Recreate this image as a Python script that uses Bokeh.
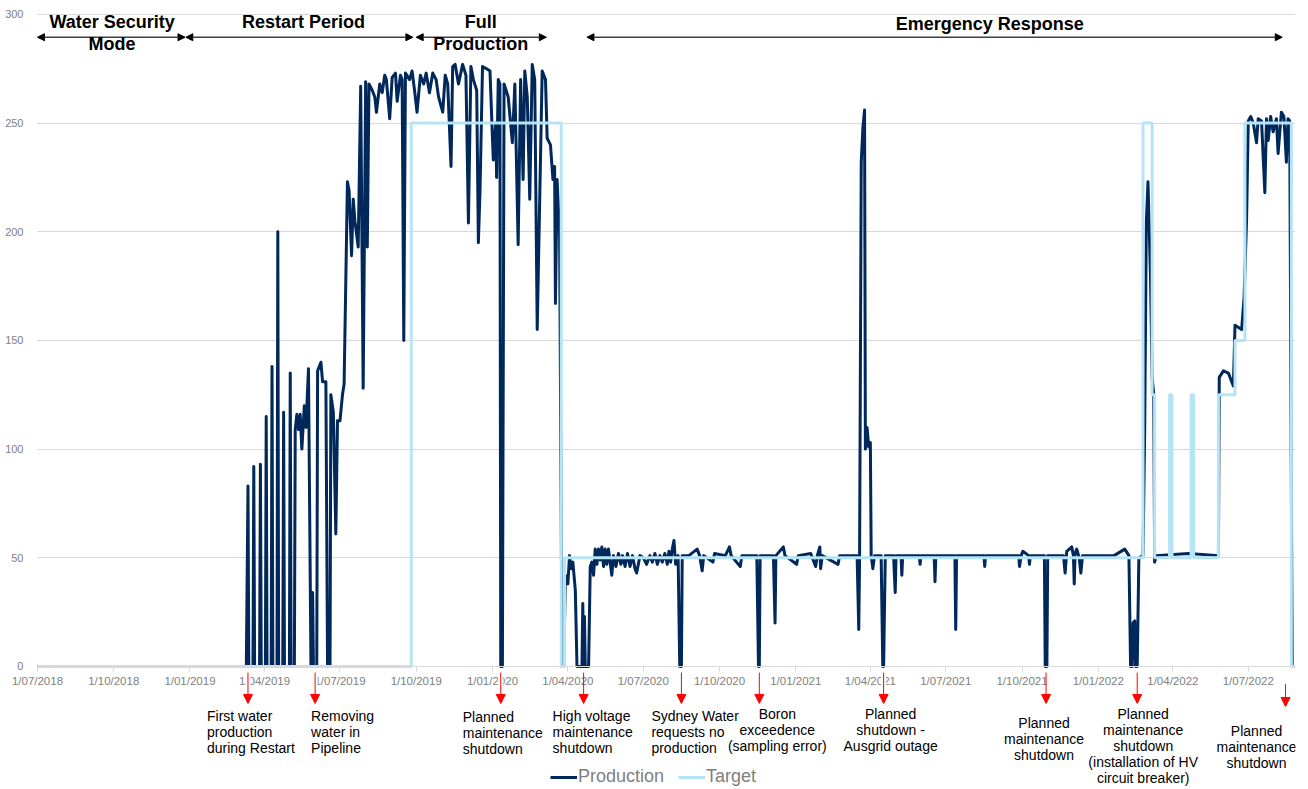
import pandas as pd
from bokeh.plotting import figure
from bokeh.models import (Range1d, FixedTicker, Arrow, NormalHead, Label, Legend,
                          LegendItem, Grid)
from bokeh.embed import file_html
from bokeh.resources import INLINE

# ---------------- data (ML/day) ----------------
prod_dates = [
    "2018-07-01", "2019-03-10",
    "2019-03-12", "2019-03-13", "2019-03-18", "2019-03-19", "2019-03-20",
    "2019-03-26", "2019-03-27", "2019-03-28", "2019-04-02", "2019-04-03", "2019-04-04",
    "2019-04-09", "2019-04-10", "2019-04-11", "2019-04-16", "2019-04-17", "2019-04-18",
    "2019-04-23", "2019-04-24", "2019-04-25", "2019-05-01", "2019-05-02", "2019-05-03",
    "2019-05-07", "2019-05-08", "2019-05-10", "2019-05-12", "2019-05-14", "2019-05-16",
    "2019-05-19", "2019-05-21", "2019-05-24", "2019-05-27", "2019-05-29", "2019-05-30",
    "2019-06-03", "2019-06-04", "2019-06-08", "2019-06-10", "2019-06-14", "2019-06-16",
    "2019-06-19", "2019-06-20", "2019-06-23", "2019-06-26", "2019-06-28", "2019-07-01",
    "2019-07-04", "2019-07-06", "2019-07-10", "2019-07-12", "2019-07-15", "2019-07-17",
    "2019-07-19", "2019-07-23", "2019-07-26", "2019-07-29", "2019-08-01", "2019-08-03",
    "2019-08-05", "2019-08-09", "2019-08-12", "2019-08-14", "2019-08-18", "2019-08-21",
    "2019-08-24", "2019-08-26", "2019-08-30", "2019-09-02", "2019-09-06", "2019-09-08",
    "2019-09-12", "2019-09-14", "2019-09-16", "2019-09-18", "2019-09-23", "2019-09-26",
    "2019-09-29", "2019-10-02", "2019-10-06", "2019-10-10", "2019-10-13", "2019-10-17",
    "2019-10-21", "2019-10-25", "2019-10-28", "2019-11-02", "2019-11-05", "2019-11-08",
    "2019-11-12", "2019-11-14", "2019-11-17", "2019-11-21", "2019-11-26", "2019-11-30",
    "2019-12-03", "2019-12-06", "2019-12-09", "2019-12-13", "2019-12-15", "2019-12-17",
    "2019-12-20", "2019-12-25", "2019-12-29", "2020-01-02", "2020-01-05", "2020-01-06",
    "2020-01-08", "2020-01-10", "2020-01-11", "2020-01-13", "2020-01-15", "2020-01-20",
    "2020-01-25", "2020-01-28", "2020-02-01", "2020-02-04", "2020-02-07", "2020-02-09",
    "2020-02-12", "2020-02-15", "2020-02-18", "2020-02-21", "2020-02-24", "2020-03-01",
    "2020-03-05", "2020-03-07", "2020-03-11", "2020-03-14", "2020-03-16", "2020-03-17",
    "2020-03-19", "2020-03-22", "2020-03-25", "2020-03-27", "2020-03-29", "2020-04-01",
    "2020-04-03", "2020-04-05", "2020-04-07", "2020-04-10", "2020-04-12", "2020-04-18",
    "2020-04-19", "2020-04-20", "2020-04-21", "2020-04-22", "2020-04-26", "2020-04-28",
    "2020-04-30", "2020-05-02", "2020-05-04", "2020-05-06", "2020-05-08", "2020-05-10",
    "2020-05-12", "2020-05-14", "2020-05-16", "2020-05-18", "2020-05-20", "2020-05-22",
    "2020-05-24", "2020-05-26", "2020-05-29", "2020-06-01", "2020-06-04", "2020-06-06",
    "2020-06-09", "2020-06-12", "2020-06-15", "2020-06-18", "2020-06-21", "2020-06-23",
    "2020-06-27", "2020-07-01", "2020-07-05", "2020-07-09", "2020-07-12", "2020-07-15",
    "2020-07-18", "2020-07-21", "2020-07-24", "2020-07-27", "2020-07-30", "2020-08-01",
    "2020-08-03", "2020-08-05", "2020-08-07", "2020-08-09", "2020-08-12", "2020-08-14",
    "2020-08-16", "2020-08-17", "2020-08-25", "2020-09-04", "2020-09-07", "2020-09-10",
    "2020-09-12", "2020-09-23", "2020-09-25", "2020-10-08", "2020-10-13", "2020-10-15",
    "2020-10-26", "2020-10-28", "2020-11-15", "2020-11-17", "2020-11-18", "2020-11-19",
    "2020-12-05", "2020-12-07", "2020-12-08", "2020-12-17", "2020-12-19", "2021-01-02",
    "2021-01-04", "2021-01-19", "2021-01-25", "2021-01-27", "2021-01-30", "2021-01-31",
    "2021-02-02", "2021-02-21", "2021-02-23", "2021-03-16", "2021-03-18", "2021-03-19",
    "2021-03-21", "2021-03-23", "2021-03-25", "2021-03-26", "2021-03-27", "2021-03-28",
    "2021-03-30", "2021-04-01", "2021-04-02", "2021-04-04", "2021-04-06", "2021-04-14",
    "2021-04-16", "2021-04-17", "2021-04-19", "2021-04-29", "2021-05-01", "2021-05-02",
    "2021-05-08", "2021-05-09", "2021-05-10", "2021-05-30", "2021-05-31", "2021-06-01",
    "2021-06-17", "2021-06-18", "2021-06-19", "2021-07-12", "2021-07-13", "2021-07-14",
    "2021-08-16", "2021-08-17", "2021-08-18", "2021-09-27", "2021-09-28", "2021-09-30",
    "2021-10-02", "2021-10-09", "2021-10-10", "2021-10-11", "2021-10-28", "2021-10-29",
    "2021-10-31", "2021-11-01", "2021-11-20", "2021-11-22", "2021-11-24", "2021-11-27",
    "2021-11-30", "2021-12-02", "2021-12-03", "2021-12-04", "2021-12-06", "2021-12-09",
    "2021-12-11", "2021-12-13", "2022-01-20", "2022-02-02", "2022-02-07", "2022-02-09",
    "2022-02-11", "2022-02-12", "2022-02-14", "2022-02-15", "2022-02-17", "2022-02-19",
    "2022-02-24", "2022-02-26", "2022-02-28", "2022-03-02", "2022-03-05", "2022-03-07",
    "2022-03-09", "2022-03-10", "2022-03-12", "2022-04-20", "2022-05-26", "2022-05-27",
    "2022-06-01", "2022-06-07", "2022-06-11", "2022-06-13", "2022-06-15", "2022-06-23",
    "2022-06-26", "2022-06-29", "2022-07-01", "2022-07-04", "2022-07-07", "2022-07-11",
    "2022-07-13", "2022-07-17", "2022-07-21", "2022-07-23", "2022-07-25", "2022-07-28",
    "2022-07-31", "2022-08-04", "2022-08-06", "2022-08-10", "2022-08-13", "2022-08-16",
    "2022-08-18", "2022-08-20", "2022-08-23",
]
prod_values = [
    0, 0,
    83, 0, 0, 92, 0,
    0, 93, 0, 0, 115, 0,
    0, 138, 0, 0, 200, 0,
    0, 117, 0, 0, 135, 0,
    0, 109, 116, 109, 116, 100,
    120, 110, 137, 0, 34, 0,
    0, 136, 140, 131, 131, 0,
    0, 125, 117, 61, 113, 113,
    125, 130, 223, 219, 189, 215,
    205, 193, 267, 128, 269, 193,
    268, 265, 262, 255, 268, 264,
    272, 270, 252, 271, 273, 260,
    272, 270, 150, 273, 270, 274,
    265, 255, 272, 268, 273, 264,
    273, 270, 262, 255, 272, 268,
    230, 276, 277, 268, 277, 272,
    204, 276, 270, 265, 195, 219,
    276, 275, 274, 233, 250, 225,
    270, 268, 0, 0, 268, 262,
    241, 268, 194, 270, 224, 274,
    262, 215, 277, 270, 155, 274,
    270, 243, 240, 224, 230, 167,
    224, 199, 0, 0, 42, 38,
    51, 45, 48, 35, 0, 0,
    29, 0, 23, 0, 0, 46,
    48, 42, 54, 47, 54, 49,
    55, 46, 54, 47, 54, 48,
    42, 51, 46, 52, 47, 51,
    46, 52, 46, 51, 45, 43,
    51, 50, 47, 51, 48, 52,
    47, 51, 48, 52, 47, 53,
    48, 54, 58, 47, 51, 0,
    0, 51, 51, 54, 51, 44,
    51, 48, 52, 51, 55, 51,
    46, 51, 51, 0, 0, 51,
    51, 20, 51, 55, 51, 47,
    51, 52, 46, 51, 55, 45,
    51, 47, 51, 51, 17, 50,
    232, 248, 256, 100, 104, 110,
    101, 103, 51, 45, 51, 51,
    0, 0, 51, 51, 34, 51,
    51, 42, 51, 51, 47, 51,
    51, 39, 51, 51, 17, 51,
    51, 46, 51, 51, 46, 51,
    53, 51, 47, 51, 51, 0,
    0, 51, 51, 43, 53, 54,
    55, 51, 38, 52, 54, 50,
    43, 51, 51, 54, 51, 0,
    0, 20, 21, 0, 0, 50,
    51, 108, 204, 223, 180, 133,
    125, 48, 51, 52, 51, 133,
    136, 135, 131, 129, 157, 155,
    170, 206, 251, 253, 250, 241,
    252, 251, 218, 252, 242, 253,
    246, 252, 236, 255, 253, 232,
    252, 251, 0,
]

target_dates = ["2018-07-01", "2019-09-25", "2020-03-24", "2020-03-28", "2022-02-24",
                "2022-03-07", "2022-03-10", "2022-03-28", "2022-03-31", "2022-04-23",
                "2022-04-26", "2022-05-26", "2022-06-15", "2022-06-27", "2022-08-22",
                "2022-08-27"]
target_values = [0, 250, 0, 50, 250, 125, 50, 125, 50, 125, 50, 125, 150, 250, 0, 0]

tick_dates = ["2018-07-01", "2018-10-01", "2019-01-01", "2019-04-01", "2019-07-01",
              "2019-10-01", "2020-01-01", "2020-04-01", "2020-07-01", "2020-10-01",
              "2021-01-01", "2021-04-01", "2021-07-01", "2021-10-01", "2022-01-01",
              "2022-04-01", "2022-07-01"]
tick_labels = ["1/07/2018", "1/10/2018", "1/01/2019", "1/04/2019", "1/07/2019",
               "1/10/2019", "1/01/2020", "1/04/2020", "1/07/2020", "1/10/2020",
               "1/01/2021", "1/04/2021", "1/07/2021", "1/10/2021", "1/01/2022",
               "1/04/2022", "1/07/2022"]
y_ticks = [0, 50, 100, 150, 200, 250, 300]

phase_names = ["Water Security\nMode", "Restart Period", "Full\nProduction", "Emergency Response"]
phase_starts = ["2018-07-01", "2018-12-27", "2019-10-01", "2020-04-24"]
phase_ends = ["2018-12-26", "2019-09-27", "2020-03-06", "2022-08-11"]
phase_label_dates = ["2018-09-29", "2019-05-18", "2019-12-18", "2021-08-23"]

event_dates = ["2019-03-12", "2019-06-01", "2020-01-11", "2020-04-20", "2020-08-16",
               "2020-11-18", "2021-04-17", "2021-10-30", "2022-02-17", "2022-08-15"]
event_texts = ["First water\nproduction\nduring Restart",
               "Removing\nwater in\nPipeline",
               "Planned\nmaintenance\nshutdown",
               "High voltage\nmaintenance\nshutdown",
               "Sydney Water\nrequests no\nproduction",
               "Boron\nexceedence\n(sampling error)",
               "Planned\nshutdown -\nAusgrid outage",
               "Planned\nmaintenance\nshutdown",
               "Planned\nmaintenance\nshutdown\n(installation of HV\ncircuit breaker)",
               "Planned\nmaintenance\nshutdown"]

# ---------------- layout / style ----------------
FONT = "Liberation Sans"
PROD_COLOR = "#00285a"
TARGET_COLOR = "#b5e4f7"
GRAY = "#808080"

def ms(d):
    return float((pd.Timestamp(d) - pd.Timestamp("1970-01-01")) // pd.Timedelta("1ms"))

X0 = pd.Timestamp("2018-07-01")
X1 = pd.Timestamp("2022-08-27")
LEFT_PAD_DAYS = 39.8          # room left of the first date for the y labels

# note layout: (x offset px, align, top y in data units, white gap behind tick label)
event_layout = [(-41, "left", -19.3, True), (-4, "left", -19.3, True),
                (-38, "left", -19.6, True), (-31, "left", -19.3, False),
                (-30, "left", -19.3, False), (18, "center", -18.0, False),
                (7, "center", -18.4, True), (-2, "center", -22.5, False),
                (6, "center", -18.4, False), (-29, "center", -25.8, False)]
arrow_top = [-2.8] * 9 + [-8.0]
arrow_tip = [-17.0] * 9 + [-18.4]

p = figure(width=1308, height=789, x_axis_type="datetime",
           x_range=Range1d(X0 - pd.Timedelta(days=LEFT_PAD_DAYS), X1),
           y_range=Range1d(-56.6, 306.4),
           output_backend="svg", toolbar_location=None,
           min_border_left=4, min_border_right=13, min_border_top=0, min_border_bottom=0)
p.outline_line_color = None
p.background_fill_color = "white"

# axes (pinned inside the frame so that the notes below can be drawn)
p.xaxis.fixed_location = 0
p.xaxis.bounds = (ms(X0), ms(X1))
p.xaxis.ticker = FixedTicker(ticks=[ms(d) for d in tick_dates])
p.xaxis.major_label_overrides = {ms(d): lab for d, lab in zip(tick_dates, tick_labels)}
p.xaxis.axis_line_color = "#d9d9d9"
p.xaxis.major_tick_line_color = "#d9d9d9"
p.xaxis.major_tick_out = 5
p.xaxis.major_tick_in = 0
p.xaxis.minor_tick_line_color = None
p.xaxis.major_label_text_font = FONT
p.xaxis.major_label_text_font_size = "11.5px"
p.xaxis.major_label_text_color = GRAY
p.xaxis.major_label_standoff = 4

p.yaxis.fixed_location = ms(X0)
p.yaxis.ticker = FixedTicker(ticks=y_ticks)
p.yaxis.axis_line_color = None
p.yaxis.major_tick_line_color = None
p.yaxis.minor_tick_line_color = None
p.yaxis.major_label_text_font = FONT
p.yaxis.major_label_text_font_size = "11px"
p.yaxis.major_label_text_color = GRAY
p.yaxis.major_label_standoff = 8

p.xgrid.visible = False
if "cross_bounds" in Grid.properties():
    p.ygrid.ticker = FixedTicker(ticks=y_ticks)
    p.ygrid.grid_line_color = "#d9d9d9"
    p.ygrid.grid_line_width = 1
    p.ygrid.cross_bounds = (ms(X0), ms(X1))
else:
    p.ygrid.visible = False
    n = len(y_ticks)
    p.segment(x0=[X0] * n, y0=y_ticks, x1=[X1] * n, y1=y_ticks,
              line_color="#d9d9d9", line_width=1, level="underlay")

# series
r_prod = p.line(pd.to_datetime(prod_dates), prod_values, line_color=PROD_COLOR,
                line_width=3, line_join="round")
r_tgt = p.step(pd.to_datetime(target_dates), target_values, mode="after",
               line_color=TARGET_COLOR, line_width=3)

# phase arrows and titles
for name, s, e, lx in zip(phase_names, phase_starts, phase_ends, phase_label_dates):
    p.add_layout(Arrow(x_start=ms(s), y_start=289.5, x_end=ms(e), y_end=289.5,
                       line_color="#404040", line_width=1.5,
                       start=NormalHead(size=7, fill_color="black", line_color="black"),
                       end=NormalHead(size=7, fill_color="black", line_color="black")))
    top = 300.0 if "Emergency" in name else 301.0
    p.add_layout(Label(x=ms(lx), y=top, text=name, text_align="center",
                       text_baseline="top", text_font=FONT, text_font_style="bold",
                       text_font_size="18px", text_color="black", text_line_height=1.1))

# event arrows and notes below the axis
for d, txt, (dx, align, ty, gap), a0, a1 in zip(event_dates, event_texts, event_layout,
                                                arrow_top, arrow_tip):
    x = ms(d)
    if gap:
        p.add_layout(Arrow(x_start=x, y_start=a0 + 1.0, x_end=x, y_end=a0 - 8.0,
                           line_color="white", line_width=5, end=None))
    p.add_layout(Arrow(x_start=x, y_start=a0, x_end=x, y_end=a1,
                       line_color="red", line_width=1,
                       end=NormalHead(size=9, fill_color="red", line_color="red")))
    p.add_layout(Label(x=x, y=ty, x_offset=dx, text=txt, text_align=align,
                       text_baseline="top", text_font=FONT, text_font_size="14px",
                       text_color="black", text_line_height=1.0))

legend = Legend(items=[LegendItem(label="Production", renderers=[r_prod]),
                       LegendItem(label="Target", renderers=[r_tgt])],
                orientation="horizontal", location=(546, 2),
                label_text_font=FONT, label_text_font_size="18px",
                label_text_color=GRAY, glyph_width=27, glyph_height=20,
                label_height=20, label_standoff=1, spacing=14, padding=0, margin=0,
                border_line_color=None, background_fill_alpha=0)
p.add_layout(legend)

open("out.html", "w").write(file_html(p, INLINE))
